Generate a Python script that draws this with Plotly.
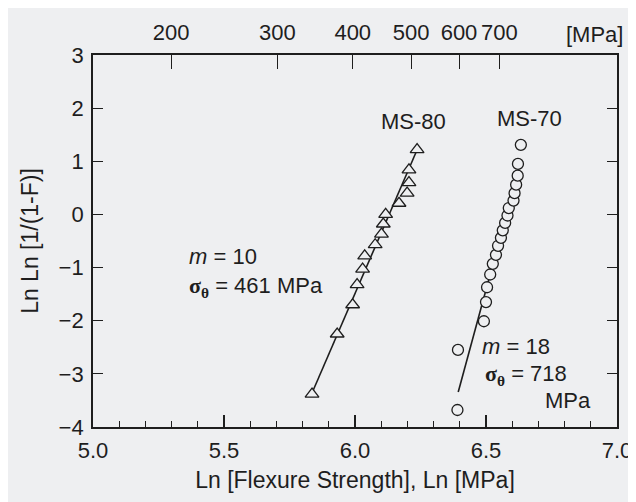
import numpy as np
import plotly.graph_objects as go

# ---- data ----
ms80_ln_strength = [5.836, 5.932, 5.991, 6.008, 6.029, 6.037, 6.077, 6.101,
                    6.108, 6.117, 6.168, 6.199, 6.206, 6.206, 6.237]
ms80_lnln = [-3.38, -2.25, -1.70, -1.32, -1.03, -0.78, -0.57, -0.37,
             -0.18, 0.00, 0.21, 0.40, 0.60, 0.84, 1.22]

ms70_ln_strength = [6.391, 6.393, 6.492, 6.500, 6.504, 6.516, 6.526, 6.538,
                    6.546, 6.557, 6.564, 6.573, 6.582, 6.587, 6.605, 6.609,
                    6.615, 6.621, 6.622, 6.633]
ms70_lnln = [-3.68, -2.55, -2.01, -1.65, -1.37, -1.13, -0.93, -0.76,
             -0.59, -0.44, -0.30, -0.16, -0.02, 0.12, 0.26, 0.40,
             0.56, 0.73, 0.95, 1.31]

ms80_fit_x = [5.836, 6.240]
ms80_fit_y = [-3.36, 1.25]
ms70_fit_x = [6.394, 6.625]
ms70_fit_y = [-3.34, 0.85]

bottom_ticks = [5.0, 5.5, 6.0, 6.5, 7.0]
bottom_labels = ["5.0", "5.5", "6.0", "6.5", "7.0"]
top_tick_mpa = [200, 300, 400, 500, 600, 700]
y_ticks = [-4, -3, -2, -1, 0, 1, 2, 3]

BG = "#eeeff1"
INK = "#1e1e1e"
FONT = "Liberation Sans"
FS_TICK = 22
FS_TXT = 22
FS_TITLE = 23

fig = go.Figure()

fig.add_trace(go.Scatter(x=ms80_fit_x, y=ms80_fit_y, mode="lines",
                         line=dict(color=INK, width=1.6), showlegend=False))
fig.add_trace(go.Scatter(x=ms70_fit_x, y=ms70_fit_y, mode="lines",
                         line=dict(color=INK, width=1.6), showlegend=False))
fig.add_trace(go.Scatter(x=ms80_ln_strength, y=ms80_lnln, mode="markers",
                         marker=dict(symbol="triangle-up", size=12, color=BG,
                                     line=dict(color=INK, width=1.3)),
                         showlegend=False))
fig.add_trace(go.Scatter(x=ms70_ln_strength, y=ms70_lnln, mode="markers",
                         marker=dict(symbol="circle", size=11, color=BG,
                                     line=dict(color=INK, width=1.3)),
                         showlegend=False))
# invisible trace to activate the top axis
fig.add_trace(go.Scatter(x=[5.0, 7.0], y=[-10, -10], xaxis="x2",
                         mode="markers", marker=dict(opacity=0),
                         showlegend=False, hoverinfo="skip"))

sig = "<span style='font-family:Liberation Serif'><b>σ<sub>θ</sub></b></span>"
annos = [
    dict(x=6.223, y=1.75, text="MS-80", xanchor="center"),
    dict(x=6.667, y=1.80, text="MS-70", xanchor="center"),
    dict(x=5.36, y=-0.80, text="<i>m</i> = 10", xanchor="left"),
    dict(x=5.36, y=-1.36, text=sig + " = 461 MPa", xanchor="left"),
    dict(x=6.477, y=-2.49, text="<i>m</i> = 18", xanchor="left"),
    dict(x=6.489, y=-3.03, text=sig + " = 718", xanchor="left"),
    dict(x=6.716, y=-3.51, text="MPa", xanchor="left"),
]
for a in annos:
    fig.add_annotation(xref="x", yref="y", showarrow=False, yanchor="middle",
                       font=dict(family=FONT, size=FS_TXT, color=INK), **a)
fig.add_annotation(xref="paper", yref="paper", x=1.016, y=1.0, yshift=21,
                   xanchor="right", yanchor="middle", showarrow=False,
                   text="[MPa]", font=dict(family=FONT, size=FS_TICK, color=INK))

fig.update_layout(
    width=636, height=502,
    margin=dict(l=85, r=23, t=42, b=83),
    paper_bgcolor=BG, plot_bgcolor=BG,
    font=dict(family=FONT, size=FS_TICK, color=INK),
    xaxis=dict(range=[5.0, 7.0], tickvals=bottom_ticks, ticktext=bottom_labels,
               ticks="inside", ticklen=12, tickwidth=1.5, tickcolor=INK,
               minor=dict(dtick=0.1, ticks="inside", ticklen=6, tickwidth=1.3,
                          tickcolor=INK, showgrid=False),
               showline=True, linecolor=INK, linewidth=1.8, mirror=False,
               showgrid=False, zeroline=False, ticklabelstandoff=3,
               title=dict(text="Ln [Flexure Strength], Ln [MPa]", standoff=10,
                          font=dict(size=FS_TITLE))),
    xaxis2=dict(range=[5.0, 7.0], overlaying="x", side="top",
                tickvals=list(np.log(top_tick_mpa)),
                ticktext=[str(v) for v in top_tick_mpa],
                ticks="inside", ticklen=14, tickwidth=1.3, tickcolor=INK,
                showline=True, linecolor=INK, linewidth=1.8,
                showgrid=False, zeroline=False, ticklabelstandoff=4),
    yaxis=dict(range=[-4, 3], tickvals=y_ticks, ticks="inside", ticklen=10,
               tickwidth=1.3, tickcolor=INK, showline=True, linecolor=INK,
               linewidth=1.8, mirror="ticks", showgrid=False, zeroline=False,
               ticklabelstandoff=3,
               title=dict(text="Ln Ln [1/(1-F)]", standoff=14,
                          font=dict(size=FS_TITLE))),
)

fig.write_html("out.html")
